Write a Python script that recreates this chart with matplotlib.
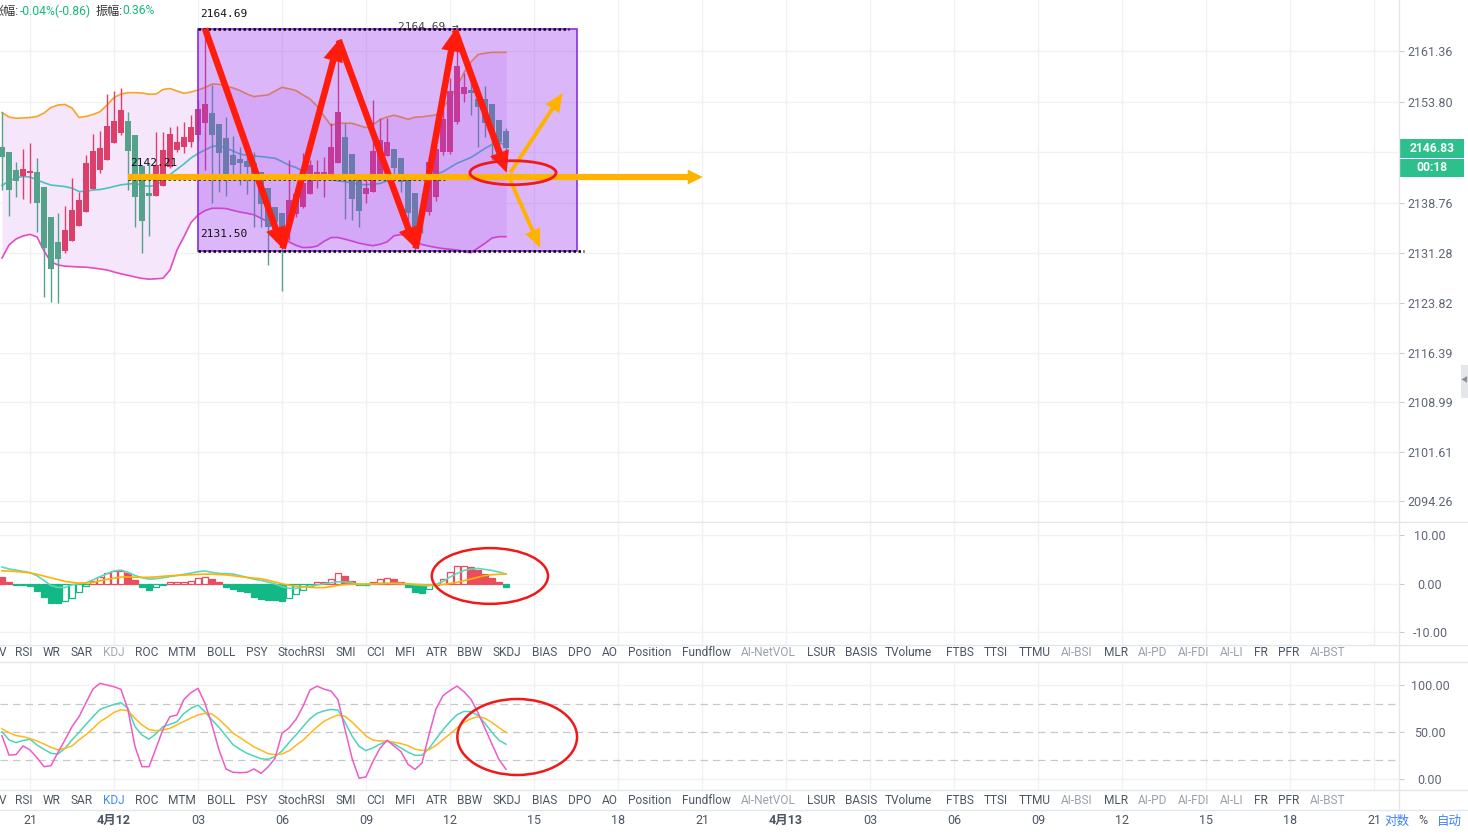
import matplotlib
matplotlib.use('Agg')
import matplotlib.pyplot as plt
import numpy as np
from matplotlib.patches import Rectangle, Ellipse, FancyArrowPatch
from matplotlib.lines import Line2D
from matplotlib.transforms import blended_transform_factory

plt.rcParams['font.family'] = ['Roboto', 'Noto Sans CJK SC', 'DejaVu Sans']

W, H = 1468, 834

#%% data (15 min candles, index 0 = 20:00)
opens = [2147.09, 2146.34, 2143.61, 2142.76, 2143.21, 2143.26, 2141.03, 2136.60, 2132.83, 2131.58,
         2133.07, 2135.31, 2137.30, 2140.78, 2143.61, 2145.15, 2147.68, 2149.17, 2150.87, 2148.83,
         2144.25, 2140.18, 2139.78, 2141.23, 2144.11, 2146.59, 2147.09, 2147.83, 2148.83, 2150.66,
         2152.06, 2150.47, 2148.33, 2145.85, 2145.25, 2144.95, 2144.61, 2143.31, 2140.88, 2138.05,
         2137.15, 2135.16, 2137.05, 2138.14, 2139.99, 2142.61, 2142.87, 2142.87, 2144.70, 2148.58,
         2145.95, 2142.22, 2140.03, 2140.38, 2143.02, 2145.75, 2146.69, 2145.40, 2142.22, 2140.23,
         2137.65, 2137.40, 2139.63, 2146.34, 2146.34, 2150.82, 2154.94, 2155.54, 2154.20, 2154.20,
         2153.45, 2151.07, 2149.43]
highs = [2152.30, 2146.34, 2144.85, 2146.74, 2147.68, 2145.35, 2141.03, 2136.60, 2137.15, 2138.24,
         2142.37, 2140.38, 2145.85, 2148.98, 2149.47, 2154.94, 2155.44, 2155.79, 2152.30, 2148.83,
         2144.25, 2144.61, 2149.23, 2149.23, 2150.07, 2150.22, 2150.82, 2151.81, 2154.05, 2164.69,
         2156.29, 2150.47, 2151.56, 2148.72, 2147.09, 2146.59, 2146.34, 2143.31, 2140.88, 2138.05,
         2137.15, 2145.10, 2141.12, 2146.10, 2145.10, 2145.10, 2145.60, 2150.57, 2162.99, 2150.57,
         2145.95, 2142.22, 2142.22, 2154.05, 2151.32, 2151.32, 2146.69, 2145.40, 2142.22, 2140.23,
         2140.13, 2145.50, 2147.50, 2155.29, 2157.28, 2164.69, 2158.03, 2158.07, 2156.14, 2156.14,
         2153.45, 2151.07, 2149.87]
lows = [2140.63, 2136.75, 2139.63, 2139.29, 2138.74, 2134.41, 2124.72, 2123.98, 2123.83, 2131.28,
        2133.07, 2135.31, 2137.30, 2140.78, 2143.21, 2145.15, 2147.59, 2148.83, 2140.63, 2135.16,
        2131.28, 2133.82, 2139.78, 2141.23, 2143.86, 2146.34, 2146.10, 2147.09, 2148.08, 2143.61,
        2138.65, 2140.38, 2139.73, 2142.12, 2141.37, 2140.03, 2135.16, 2135.16, 2129.45, 2134.17,
        2125.62, 2133.17, 2136.65, 2137.90, 2139.99, 2140.88, 2139.63, 2142.87, 2144.70, 2136.26,
        2136.16, 2135.16, 2138.64, 2140.38, 2143.02, 2145.75, 2142.87, 2140.38, 2135.41, 2131.50,
        2134.17, 2136.90, 2139.00, 2145.80, 2146.00, 2150.50, 2153.80, 2151.81, 2147.04, 2148.53,
        2145.10, 2146.50, 2145.40]
closes = [2145.50, 2140.63, 2142.02, 2143.71, 2143.51, 2138.74, 2131.93, 2128.90, 2130.34, 2134.66,
          2137.65, 2139.14, 2144.61, 2146.49, 2146.84, 2150.17, 2150.92, 2152.56, 2146.49, 2139.63,
          2136.05, 2139.69, 2144.36, 2146.59, 2148.98, 2147.79, 2148.53, 2150.02, 2152.66, 2153.45,
          2148.83, 2146.19, 2143.02, 2144.36, 2144.70, 2144.10, 2142.61, 2138.49, 2135.16, 2135.90,
          2133.17, 2139.14, 2140.03, 2141.62, 2144.36, 2143.36, 2143.36, 2147.09, 2152.21, 2142.87,
          2139.29, 2137.55, 2140.97, 2146.44, 2148.08, 2147.79, 2143.86, 2141.78, 2137.25, 2134.92,
          2137.25, 2144.85, 2146.69, 2151.17, 2155.44, 2159.12, 2156.04, 2155.09, 2152.96, 2150.62,
          2149.13, 2147.79, 2146.83]

boll_up = [2152.19, 2151.51, 2151.32, 2151.37, 2151.44, 2151.59, 2152.11, 2152.93, 2153.30, 2153.38,
           2152.86, 2151.44, 2151.59, 2151.89, 2152.30, 2153.30, 2154.42, 2154.94, 2155.14, 2155.14,
           2155.09, 2154.90, 2154.94, 2155.61, 2155.76, 2155.39, 2155.05, 2155.24, 2155.54, 2155.91,
           2156.43, 2156.39, 2156.14, 2155.84, 2155.47, 2154.94, 2154.56, 2154.69, 2154.80, 2155.39,
           2155.94, 2155.72, 2155.47, 2154.80, 2154.20, 2153.15, 2151.66, 2150.25, 2150.58, 2150.58,
           2150.58, 2150.25, 2149.92, 2150.37, 2151.11, 2151.51, 2151.78, 2151.51, 2151.17, 2151.48,
           2151.54, 2151.69, 2151.81, 2152.89, 2154.35, 2156.03, 2158.12, 2159.72, 2160.83, 2161.01,
           2161.16, 2161.16, 2161.16]
boll_mid = [2141.30, 2141.97, 2142.45, 2142.64, 2142.57, 2142.12, 2141.72, 2141.36, 2141.26, 2141.14,
            2140.90, 2140.41, 2140.42, 2140.63, 2140.70, 2140.90, 2141.15, 2141.40, 2141.52, 2141.60,
            2141.37, 2141.15, 2141.37, 2142.02, 2142.93, 2143.72, 2144.51, 2145.40, 2146.07, 2146.59,
            2147.12, 2147.25, 2146.92, 2146.44, 2146.00, 2145.79, 2145.70, 2145.61, 2145.49, 2145.36,
            2144.88, 2144.33, 2143.98, 2143.43, 2143.02, 2142.69, 2142.40, 2142.17, 2141.99, 2141.87,
            2141.67, 2141.46, 2141.42, 2141.52, 2141.60, 2141.97, 2142.57, 2142.27, 2142.06, 2142.24,
            2142.37, 2142.58, 2142.96, 2143.36, 2143.98, 2144.61, 2145.04, 2145.48, 2146.15, 2146.83,
            2147.41, 2147.65, 2147.34]
boll_dn = [2130.49, 2132.43, 2133.32, 2133.77, 2134.02, 2133.62, 2131.53, 2129.89, 2129.45, 2129.27,
           2129.21, 2129.15, 2129.12, 2129.00, 2128.86, 2128.70, 2128.40, 2128.13, 2127.90, 2127.66,
           2127.45, 2127.33, 2127.39, 2127.46, 2128.70, 2131.68, 2133.68, 2135.78, 2136.90, 2137.56,
           2137.90, 2137.90, 2137.86, 2137.59, 2137.33, 2137.16, 2136.93, 2136.42, 2135.87, 2135.01,
           2133.73, 2132.88, 2132.38, 2132.04, 2132.07, 2132.25, 2132.97, 2133.53, 2133.55, 2133.29,
           2133.01, 2132.70, 2132.49, 2132.32, 2132.53, 2132.88, 2133.80, 2133.99, 2133.64, 2133.02,
           2132.50, 2132.26, 2132.06, 2131.89, 2131.79, 2131.68, 2131.46, 2131.27, 2131.98, 2132.68,
           2133.47, 2133.67, 2133.67]

macd_hist = [1.5, 0.35, -0.27, -0.27, -0.5, -1.4, -2.6, -3.85, -4.0, -3.6,
             -2.8, -1.7, -0.4, 0.6, 1.4, 2.2, 2.7, 2.7, 2.2, 0.8,
             -0.7, -1.3, -0.6, -0.2, 0.4, 0.5, 0.5, 0.7, 1.2, 1.5,
             1.0, 0.4, -0.7, -1.1, -1.4, -1.65, -2.6, -3.0, -3.2, -3.3,
             -3.6, -2.95, -2.05, -1.2, -0.4, 0.4, 0.38, 1.0, 2.2, 1.65,
             0.7, -0.27, -0.28, 0.4, 1.0, 1.2, 1.0, 0.4, -0.7, -1.6,
             -1.8, -1.1, -0.3, 1.0, 2.4, 3.7, 3.7, 3.6, 2.9, 2.05,
             1.2, 0.35, -0.55]
macd_dif = [3.5, 3.1, 2.85, 2.6, 2.35, 1.7, 0.72, -0.33, -0.71, -0.72,
            -0.16, 0.07, 0.25, 0.85, 1.5, 2.12, 2.69, 2.85, 2.41, 1.75,
            1.28, 1.0, 1.1, 1.28, 1.53, 1.76, 1.98, 2.24, 2.53, 2.68,
            2.39, 2.18, 2.12, 2.06, 1.72, 1.35, 1.0, 0.75, 0.4, 0.0,
            -0.54, -0.9, -0.9, -0.6, -0.48, -0.2, 0.03, 0.25, 0.45, 0.41,
            0.31, -0.15, -0.1, -0.02, 0.13, 0.17, 0.13, 0.13, -0.03, -0.18,
            -0.3, -0.35, -0.1, 0.52, 1.43, 2.18, 2.79, 3.09, 3.2, 3.0,
            2.8, 2.45, 2.06]
macd_dea = [2.73, 2.65, 2.58, 2.46, 2.28, 2.0, 1.63, 1.26, 0.91, 0.54,
            0.34, 0.16, 0.22, 0.34, 0.65, 0.97, 1.2, 1.42, 1.45, 1.39,
            1.37, 1.37, 1.47, 1.59, 1.69, 1.76, 1.83, 1.9, 1.97, 2.04,
            2.01, 1.94, 1.87, 1.7, 1.53, 1.36, 1.2, 1.1, 0.76, 0.4,
            0.04, -0.26, -0.45, -0.6, -0.69, -0.74, -0.74, -0.56, -0.28, -0.1,
            -0.02, 0.0, 0.0, 0.04, 0.07, 0.11, 0.12, 0.07, 0.02, -0.06,
            -0.14, -0.2, -0.2, -0.1, 0.1, 0.35, 0.68, 1.03, 1.4, 1.72,
            1.9, 2.0, 2.06]

kdj_k = [50.4, 41.6, 38.7, 40.9, 42.3, 36.2, 31.6, 27.3, 26.6, 32.7,
         41.6, 49.6, 58.2, 66.3, 74.1, 76.9, 79.4, 81.2, 75.2, 55.7,
         46.9, 42.3, 48.2, 55.7, 58.2, 61.0, 69.9, 75.2, 78.7, 71.6,
         62.8, 54.9, 45.8, 36.5, 31.6, 27.3, 24.5, 21.6, 20.9, 23.8,
         29.8, 38.7, 46.9, 55.7, 64.2, 69.9, 72.5, 74.0, 73.4, 60.3,
         45.8, 34.8, 30.2, 33.1, 37.1, 40.4, 37.4, 33.0, 28.5, 25.2,
         25.3, 32.5, 42.6, 52.4, 61.0, 68.4, 71.9, 71.6, 67.6, 59.2,
         49.6, 41.2, 37.0]
kdj_d = [53.5, 49.3, 46.2, 45.1, 43.0, 40.5, 37.3, 33.7, 30.9, 32.7,
         35.2, 41.6, 47.2, 53.9, 61.0, 65.6, 70.9, 73.7, 72.7, 64.6,
         57.5, 52.6, 51.4, 52.2, 53.9, 57.7, 61.4, 64.9, 68.2, 69.9,
         69.2, 63.5, 56.4, 48.9, 44.0, 39.0, 34.2, 30.7, 27.0, 25.9,
         26.6, 30.0, 35.8, 41.2, 48.6, 55.3, 61.4, 65.1, 68.1, 66.7,
         60.6, 53.2, 45.8, 41.4, 40.5, 40.5, 39.2, 37.6, 35.5, 31.7,
         30.4, 31.2, 35.8, 41.9, 47.9, 54.3, 60.3, 64.2, 66.3, 64.6,
         60.1, 54.6, 49.6]
kdj_j = [46.0, 25.5, 25.9, 35.2, 30.9, 22.7, 13.1, 14.2, 28.4, 41.6,
         55.7, 66.3, 81.2, 95.8, 101.8, 100.0, 98.2, 95.4, 73.4, 34.5,
         13.1, 13.1, 32.7, 52.9, 66.3, 68.1, 84.8, 91.9, 96.5, 80.5,
         57.5, 30.9, 10.7, 7.1, 6.7, 7.1, 10.7, 6.0, 12.8, 22.0,
         48.6, 54.3, 63.5, 77.3, 94.7, 98.8, 95.6, 93.6, 84.4, 52.9,
         22.3, 0.8, 2.3, 18.8, 32.7, 41.2, 35.2, 29.1, 15.6, 10.3,
         17.0, 47.2, 74.5, 88.7, 94.2, 98.9, 92.9, 84.8, 70.6, 53.9,
         37.0, 20.7, 10.3]

time_ticks = [4, 16, 28, 40, 52, 64, 76, 88, 100, 112, 124, 136, 148, 160, 172, 184, 196]
time_labels = ['21', '4月12', '03', '06', '09', '12', '15', '18', '21',
               '4月13', '03', '06', '09', '12', '15', '18', '21']
price_ticks = [2161.36, 2153.80, 2146.31, 2138.76, 2131.28, 2123.82, 2116.39, 2108.99, 2101.61, 2094.26]
macd_ticks = [10, 0, -10]
kdj_ticks = [100, 50, 0]

box_high = 2164.69
box_low = 2131.50
level_mid = 2142.21
target_y = 2143.2
last_time = '00:18'

tab_names = ['V', 'RSI', 'WR', 'SAR', 'KDJ', 'ROC', 'MTM', 'BOLL', 'PSY', 'StochRSI', 'SMI', 'CCI',
             'MFI', 'ATR', 'BBW', 'SKDJ', 'BIAS', 'DPO', 'AO', 'Position', 'Fundflow', 'AI-NetVOL',
             'LSUR', 'BASIS', 'TVolume', 'FTBS', 'TTSI', 'TTMU', 'AI-BSI', 'MLR', 'AI-PD', 'AI-FDI',
             'AI-LI', 'FR', 'PFR', 'AI-BST']
tab_x = [1, 24, 52, 82, 114, 147, 182, 221, 257, 301, 346, 376, 405, 437, 470, 507, 545, 580,
         610, 650, 706, 768, 821, 861, 908, 960, 996, 1035, 1077, 1116, 1153, 1194, 1232, 1261,
         1289, 1328]

#%% figure
fig = plt.figure(figsize=(W / 100, H / 100), dpi=100)
fig.patch.set_facecolor('white')


def add_ax(x0, y0, x1, y1):
    return fig.add_axes([x0 / W, 1 - y1 / H, (x1 - x0) / W, (y1 - y0) / H])


def fx(px):
    return px / W


def fy(py):
    return 1 - py / H


ax = add_ax(0, 0, 1399, 522)
ax2 = add_ax(0, 522, 1399, 645)
ax3 = add_ax(0, 662, 1399, 790)
ax4 = add_ax(0, 810, 1399, 834)

grid_c = '#f0f1f4'
lab_c = '#5f6673'
for a in (ax, ax2, ax3, ax4):
    a.set_xlim(-2 / 7, 1397 / 7)
    a.set_facecolor('none')
    for s in a.spines.values():
        s.set_visible(False)
    a.set_xticks(time_ticks)
    a.tick_params(axis='x', length=0, labelbottom=False)
    a.set_axisbelow(True)
for a in (ax, ax2, ax3):
    a.grid(axis='x', color=grid_c, lw=1)


def right_ticks(a, ticks, hide=()):
    a.yaxis.tick_right()
    a.set_yticks(ticks)
    a.set_yticklabels(['' if v in hide else f'{v:.2f}' for v in ticks])
    a.tick_params(axis='y', length=3.6, width=0.8, color='#c5c9d0', labelsize=9,
                  labelcolor=lab_c, pad=18.7)
    for lab in a.get_yticklabels():
        lab.set_horizontalalignment('center')


#%% main panel
idx = np.arange(len(closes))
o = np.array(opens)
c = np.array(closes)
red, green = '#dc3f6a', '#54a28a'
col = np.where(c >= o, red, green)

ax.set_ylim(2091.12, 2168.96)
# the tick under the live price tag is covered in the original
right_ticks(ax, price_ticks, hide=(2146.31,))
ax.grid(axis='y', color=grid_c, lw=1)

ax.fill_between(idx, boll_dn, boll_up, color='#f5e6fb', lw=0, zorder=1)
ax.plot(idx, boll_up, color='#f7a325', lw=1.2, zorder=2)
ax.plot(idx, boll_mid, color='#49c2c2', lw=1.2, zorder=2)
ax.plot(idx, boll_dn, color='#e54cc0', lw=1.2, zorder=2)

ax.vlines(idx, lows, highs, colors=col, lw=1.0, zorder=3)
body = np.maximum(np.abs(c - o), 0.15)
ax.bar(idx, body, bottom=np.minimum(o, c), width=0.74, color=col, lw=0, zorder=3)

# range box
ax.add_patch(Rectangle((28, box_low), 82.14 - 28, box_high - box_low,
                       facecolor=(0.6, 0.2, 0.95, 0.35), edgecolor='#8e2de2', lw=1.2, zorder=4))
dot = dict(color='black', lw=1.8, ls=(0, (1, 1)), zorder=5)
ax.plot([28, 81], [box_high, box_high], **dot)
ax.plot([28, 83.1], [box_low, box_low], **dot)
ax.plot([18, 63.3], [level_mid, level_mid], **dot)

mono = dict(family='DejaVu Sans Mono', fontsize=8, color='#111111', zorder=5, va='center')
ax.text(28.3, box_high + 2.18, f'{box_high:.2f}', **mono)
ax.text(28.3, box_low + 2.57, f'{box_low:.2f}', **mono)
ax.text(18.3, level_mid + 2.44, f'{level_mid:.2f}', **mono)
ax.text(56.6, box_high + 0.25, f'{box_high:.2f} \u2192', family='DejaVu Sans Mono', fontsize=8,
        color='#444444', va='center', zorder=4.5)

# zigzag arrows
zig_x = [29.0, 40.1, 48.1, 59.1, 64.7, 72.1]
zig_y = [box_high, box_low + 0.4, highs[48], box_low + 0.4, box_high - 0.2, target_y]
for k in range(len(zig_x) - 1):
    ax.add_patch(FancyArrowPatch((zig_x[k], zig_y[k]), (zig_x[k + 1], zig_y[k + 1]),
                                 arrowstyle='simple,head_length=1.7,head_width=1.6,tail_width=0.52',
                                 mutation_scale=9, color='#ff1c0d', lw=0, zorder=6,
                                 shrinkA=0, shrinkB=0))

orange = '#ffb300'
ax.add_patch(FancyArrowPatch((18, level_mid + 0.35), (100.1, level_mid + 0.35),
                             arrowstyle='simple,head_length=1.2,head_width=1.2,tail_width=0.5',
                             mutation_scale=9, color=orange, lw=0, zorder=6, shrinkA=0, shrinkB=0))
ax.add_patch(FancyArrowPatch((72.6, target_y), (80.1, 2155.1),
                             arrowstyle='simple,head_length=1.5,head_width=1.3,tail_width=0.32',
                             mutation_scale=9, color=orange, lw=0, zorder=6, shrinkA=0, shrinkB=0))
ax.add_patch(FancyArrowPatch((72.6, target_y - 1.1), (76.9, 2132.0),
                             arrowstyle='simple,head_length=1.5,head_width=1.3,tail_width=0.32',
                             mutation_scale=9, color=orange, lw=0, zorder=6, shrinkA=0, shrinkB=0))
ax.add_patch(Ellipse((73.0, target_y), 12.3, 3.58, fill=False, edgecolor='#f01818', lw=2.0, zorder=7))

# current price tag
tr = blended_transform_factory(ax.transAxes, ax.transData)
x_end = 1464 / 1399
ax.add_patch(Rectangle((1.0, closes[-1] - 1.42), x_end - 1.0, 2.84, transform=tr,
                       facecolor='#2dc08d', edgecolor='none', clip_on=False, zorder=10))
ax.add_patch(Rectangle((1.0, closes[-1] - 1.42 - 2.84), x_end - 1.0, 2.75, transform=tr,
                       facecolor='#2dc08d', edgecolor='none', clip_on=False, zorder=10))
ax.text(1432 / 1399, closes[-1], f'{closes[-1]:.2f}', transform=tr, ha='center', va='center',
        color='white', fontsize=8.7, fontweight='bold', zorder=11, clip_on=False)
ax.text(1432 / 1399, closes[-1] - 2.84, last_time, transform=tr, ha='center', va='center',
        color='white', fontsize=8.7, fontweight='bold', zorder=11, clip_on=False)

#%% MACD panel
ax2.set_ylim(-12.58, 12.78)
right_ticks(ax2, macd_ticks)
ax2.grid(axis='y', color=grid_c, lw=1)
hist = np.array(macd_hist)
for i, v in enumerate(hist):
    cc = '#ea4d5c' if v >= 0 else '#12b886'
    hollow = i > 0 and v >= hist[i - 1]
    ax2.bar(i, v, width=0.72, facecolor='white' if hollow else cc, edgecolor=cc, lw=0.9, zorder=2)
ax2.plot(idx, macd_dif, color='#5ad8c0', lw=1.2, zorder=3)
ax2.plot(idx, macd_dea, color='#ffb300', lw=1.2, zorder=3)
ax2.add_patch(Ellipse((69.7, 1.65), 16.6, 11.5, fill=False, edgecolor='#f01818', lw=1.8, zorder=7))

#%% KDJ panel
ax3.set_ylim(-11.7, 124.5)
right_ticks(ax3, kdj_ticks)
for v in (100, 0):
    ax3.axhline(v, color=grid_c, lw=1, zorder=0)
for v in (80, 50, 20):
    ax3.axhline(v, color='#c8c8c8', lw=0.9, ls=(0, (6, 4)), zorder=1)
ax3.plot(idx, kdj_k, color='#4dd4b8', lw=1.1, zorder=3)
ax3.plot(idx, kdj_d, color='#ffb81c', lw=1.1, zorder=3)
ax3.plot(idx, kdj_j, color='#ee5bc8', lw=1.1, zorder=3)
ax3.add_patch(Ellipse((73.6, 44.7), 17.1, 80.9, fill=False, edgecolor='#f01818', lw=1.8, zorder=7))

#%% time axis
ax4.set_ylim(0, 1)
ax4.set_yticks([])
ax4.set_xticks([])
for t, lab in zip(time_ticks, time_labels):
    ax4.text(t, 0.55, lab, ha='center', va='center', fontsize=9, color='#4b5563',
             fontweight='bold' if '月' in lab else 'normal')

#%% frame lines, tabs, header
sep_c = '#e3e6ea'
for yy in (522, 645, 662, 790, 810):
    fig.add_artist(Line2D([0, 1], [fy(yy), fy(yy)], transform=fig.transFigure, color=sep_c, lw=1))
fig.add_artist(Line2D([fx(1399), fx(1399)], [fy(0), fy(810)], transform=fig.transFigure,
                      color=sep_c, lw=1))

gray_tabs = {'AI-NetVOL', 'AI-BSI', 'AI-PD', 'AI-FDI', 'AI-LI', 'AI-BST'}
for ybar, kdj_col in ((653, '#a3a9b3'), (800, '#3d8ef0')):
    for name, xx in zip(tab_names, tab_x):
        if name == 'KDJ':
            cc = kdj_col
        elif name in gray_tabs:
            cc = '#9aa1ac'
        else:
            cc = '#4b5563'
        ha = 'right' if name == 'V' else 'center'
        fig.text(fx(xx + 5 if name == 'V' else xx), fy(ybar), name, ha=ha, va='center',
                 fontsize=8.6, color=cc)

fig.text(fx(1397), fy(821), '对数', ha='center', va='center', fontsize=9, color='#3b82f6')
fig.text(fx(1423), fy(821), '%', ha='center', va='center', fontsize=9, color='#4b5563')
fig.text(fx(1449), fy(821), '自动', ha='center', va='center', fontsize=9, color='#3b82f6')

hdr_g = '#16b979'
fig.text(fx(-8), fy(11), '涨幅:', va='center', fontsize=8.7, color='#333333')
fig.text(fx(20), fy(11), '-0.04%(-0.86)', va='center', fontsize=8.7, color=hdr_g)
fig.text(fx(96), fy(11), '振幅:', va='center', fontsize=8.7, color='#333333')
fig.text(fx(122), fy(11), '0.36%', va='center', fontsize=8.7, color=hdr_g)

# side handle
fig.add_artist(Rectangle((fx(1461), fy(398)), fx(7), 33 / H, transform=fig.transFigure,
                         facecolor='#e4e6ea', edgecolor='none'))
fig.text(fx(1464.5), fy(381), '\u25c0', ha='center', va='center', fontsize=5, color='#8a8f98')

fig.savefig('out.png', dpi=100, facecolor='white')
